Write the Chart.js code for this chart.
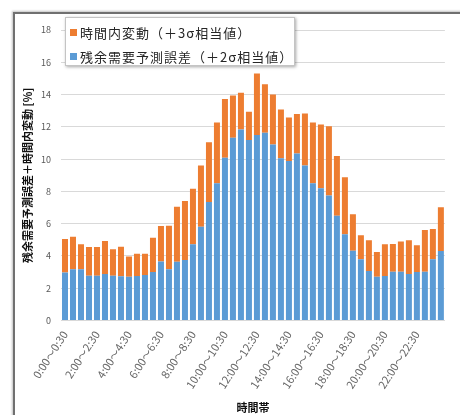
<!DOCTYPE html>
<html lang="ja">
<head>
<meta charset="utf-8">
<script src="https://cdn.jsdelivr.net/npm/chart.js@4"></script>
<style>
  html, body { margin: 0; padding: 0; background: #fff; width: 460px; height: 415px; overflow: hidden; }
  #frame {
    position: absolute; left: 13px; top: 12px; width: 470px; height: 430px;
    border-top: 2px solid #707070; border-left: 2px solid #707070;
    box-shadow: -1px -1px 2px rgba(0,0,0,0.25);
  }
  #wrap { position: absolute; left: 15px; top: 14px; width: 445px; height: 401px; }
  #legend {
    position: absolute; left: 65px; top: 17px; width: 230px; height: 49px;
    box-sizing: border-box; background: #fff; border: 1px solid #c4c4c4;
    box-shadow: 1px 1px 3px rgba(0,0,0,0.35);
    font-family: "Noto Sans CJK JP", sans-serif; font-size: 13px; color: #262626;
    letter-spacing: 1px;
  }
  #legend ul { list-style: none; margin: 0; padding: 2px 0 0 4px; }
  #legend li { display: flex; align-items: center; height: 24px; white-space: nowrap; }
  #legend .mark { width: 7px; height: 7px; margin-right: 3px; flex: none; }
</style>
</head>
<body>
<div id="frame"></div>
<div id="wrap"><canvas id="chart"></canvas></div>
<div id="legend"></div>
<script>
// 30-minute time slots of the day
const timeSlots = [
  "0:00～0:30", "0:30～1:00", "1:00～1:30", "1:30～2:00",
  "2:00～2:30", "2:30～3:00", "3:00～3:30", "3:30～4:00",
  "4:00～4:30", "4:30～5:00", "5:00～5:30", "5:30～6:00",
  "6:00～6:30", "6:30～7:00", "7:00～7:30", "7:30～8:00",
  "8:00～8:30", "8:30～9:00", "9:00～9:30", "9:30～10:00",
  "10:00～10:30", "10:30～11:00", "11:00～11:30", "11:30～12:00",
  "12:00～12:30", "12:30～13:00", "13:00～13:30", "13:30～14:00",
  "14:00～14:30", "14:30～15:00", "15:00～15:30", "15:30～16:00",
  "16:00～16:30", "16:30～17:00", "17:00～17:30", "17:30～18:00",
  "18:00～18:30", "18:30～19:00", "19:00～19:30", "19:30～20:00",
  "20:00～20:30", "20:30～21:00", "21:00～21:30", "21:30～22:00",
  "22:00～22:30", "22:30～23:00", "23:00～23:30", "23:30～0:00"
];

// Residual demand forecast error (+2σ), % — lower stack
const forecastError = [
  2.98, 3.17, 3.17, 2.78, 2.78, 2.88, 2.78, 2.74,
  2.71, 2.75, 2.82, 3.00, 3.66, 3.18, 3.64, 3.75,
  4.72, 5.81, 7.34, 8.50, 10.08, 11.32, 11.84, 11.18,
  11.49, 11.63, 10.91, 10.06, 9.88, 10.35, 9.61, 8.50,
  8.19, 7.75, 6.49, 5.34, 4.32, 3.79, 3.07, 2.71,
  2.75, 3.02, 3.02, 2.88, 3.00, 3.02, 3.79, 4.30
];

// Intra-slot variation (+3σ), % — stacked on top
const intraVariation = [
  2.07, 2.02, 1.55, 1.77, 1.77, 2.04, 1.63, 1.83,
  1.26, 1.39, 1.32, 2.13, 2.20, 2.69, 3.41, 3.65,
  3.44, 3.80, 3.71, 3.77, 3.65, 2.62, 2.27, 1.75,
  3.82, 3.01, 3.09, 3.02, 2.70, 2.44, 3.22, 3.77,
  3.96, 4.29, 3.70, 3.53, 2.27, 1.50, 1.91, 1.53,
  1.97, 1.72, 1.88, 2.10, 1.67, 2.58, 1.88, 2.71
];

const seriesNames = ["残余需要予測誤差（＋2σ相当値）", "時間内変動（＋3σ相当値）"];
const seriesColors = ["#5B9BD5", "#ED7D31"];

Chart.defaults.font.family = '"Noto Sans CJK JP", sans-serif';

// Legend rendered as HTML from the chart's own legend items
const htmlLegend = {
  id: "htmlLegend",
  afterUpdate(chart) {
    const box = document.getElementById("legend");
    box.innerHTML = "";
    const ul = document.createElement("ul");
    const items = chart.options.plugins.legend.labels.generateLabels(chart).slice().reverse();
    items.forEach(item => {
      const li = document.createElement("li");
      const mark = document.createElement("span");
      mark.className = "mark";
      mark.style.background = item.fillStyle;
      const txt = document.createElement("span");
      txt.textContent = item.text;
      li.appendChild(mark);
      li.appendChild(txt);
      ul.appendChild(li);
    });
    box.appendChild(ul);
  }
};

new Chart(document.getElementById("chart"), {
  type: "bar",
  data: {
    labels: timeSlots,
    datasets: [
      { label: seriesNames[0], data: forecastError, backgroundColor: seriesColors[0], borderWidth: 0 },
      { label: seriesNames[1], data: intraVariation, backgroundColor: seriesColors[1], borderWidth: 0 }
    ]
  },
  options: {
    responsive: true,
    maintainAspectRatio: false,
    animation: false,
    categoryPercentage: 0.75,
    barPercentage: 1.0,
    layout: { padding: { top: 16, right: 5, bottom: 0, left: 0 } },
    plugins: {
      legend: { display: false },
      tooltip: { enabled: false }
    },
    scales: {
      x: {
        stacked: true,
        grid: { display: false, drawTicks: false },
        border: { color: "#d9d9d9" },
        ticks: {
          autoSkip: false,
          minRotation: 57,
          maxRotation: 57,
          padding: 8,
          color: "#666666",
          font: { size: 11 },
          callback(value, index) { return index % 4 === 0 ? this.getLabelForValue(value) : ""; }
        },
        title: {
          display: true, text: "時間帯", color: "#111",
          font: { size: 11, weight: "bold" }, padding: { top: 0, bottom: 1 }
        },
        afterFit(scale) { scale.height = 94.5; }
      },
      y: {
        stacked: true,
        min: 0,
        max: 18,
        grid: { color: "#d9d9d9", drawTicks: false },
        border: { display: false },
        ticks: { stepSize: 2, padding: 10, color: "#595959", font: { size: 9 } },
        title: {
          display: true, text: "残余需要予測誤差＋時間内変動 [%]", color: "#111",
          font: { size: 11, weight: "bold" }, padding: { top: 6, bottom: 0 }
        },
        afterFit(scale) { scale.width = 46; }
      }
    }
  },
  plugins: [htmlLegend]
});
</script>
</body>
</html>
